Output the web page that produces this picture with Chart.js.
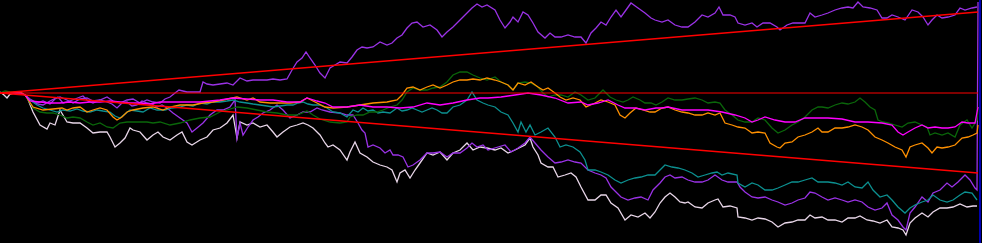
<!DOCTYPE html>
<html>
<head>
<meta charset="utf-8">
<script src="https://cdn.jsdelivr.net/npm/chart.js@4/dist/chart.umd.min.js"></script>
<style>
  html, body { margin: 0; padding: 0; background: #000; }
  #wrap { width: 982px; height: 243px; }
</style>
</head>
<body>
<div id="wrap"><canvas id="c" width="982" height="243"></canvas></div>
<script>
// Each series: [step, level] readings (level axis runs downward, 0 at top)
const upperViolet = [
  [0,93],[10,93],[20,92],[25,95],[30,99],[37,103],[43,101],[50,104],[55,99],[60,97],[67,100],[73,103],[80,99],[87,98],[93,101],
  [100,100],[107,97],[113,101],[120,103],[127,100],[133,99],[140,103],[147,100],[153,102],[160,103],[165,99],[170,97],[175,93],
  [179,90],[187,92],[193,92],[200,92],[203,82],[207,84],[213,85],[220,84],[227,83],[233,85],[240,78],[247,81],[253,80],[260,80],
  [267,80],[273,79],[280,80],[287,79],[292,70],[297,62],[302,58],[306,52],[310,58],[315,65],[320,73],[325,78],[330,68],
  [335,65],[340,62],[347,63],[352,57],[357,50],[362,47],[367,48],[373,47],[380,42],[387,45],[392,43],[397,38],[402,35],[407,28],
  [412,23],[417,22],[423,27],[430,25],[437,30],[442,37],[447,32],[453,27],[460,20],[467,13],[472,8],[477,4],[482,7],[487,5],
  [495,10],[500,20],[505,28],[510,22],[513,17],[518,22],[523,12],[528,15],[533,23],[538,32],[545,38],[550,33],[555,37],[561,37],
  [568,35],[575,37],[581,37],[586,43],[591,33],[596,28],[601,22],[606,25],[611,17],[616,10],[621,17],[626,10],[631,3],[638,8],
  [645,13],[651,18],[655,20],[662,22],[668,20],[675,25],[682,27],[688,27],[695,22],[702,15],[708,17],[715,13],[719,7],[723,15],
  [730,15],[735,17],[738,23],[745,25],[752,23],[757,27],[763,23],[770,23],[777,27],[780,30],[787,25],[793,23],[800,23],[805,23],
  [810,13],[815,17],[822,15],[828,13],[835,10],[842,8],[848,7],[853,8],[858,2],[863,7],[870,8],[877,10],[882,18],[887,18],
  [892,15],[898,17],[905,20],[912,10],[918,12],[923,17],[928,25],[932,20],[937,15],[942,18],[948,17],[955,15],[960,8],[965,10],
  [972,8],[977,7]
];

const lowerViolet = [
  [0,93],[10,93],[20,93],[25,95],[30,100],[37,104],[43,105],[50,101],[58,97],[63,103],[67,102],[75,99],[83,96],[88,101],[93,103],
  [100,100],[107,102],[112,104],[117,108],[122,103],[127,102],[132,106],[137,105],[142,101],[147,103],[152,104],[157,107],[162,105],
  [167,108],[173,113],[180,118],[187,123],[192,132],[197,128],[203,123],[210,115],[217,110],[223,110],[230,107],[235,100],[237,138],
  [240,123],[243,135],[248,127],[253,120],[258,117],[263,113],[270,110],[277,105],[283,110],[290,118],[297,115],[303,112],[310,112],
  [317,108],[322,110],[330,112],[340,113],[347,115],[353,115],[358,123],[362,130],[365,133],[368,147],[373,145],[380,148],[385,153],
  [390,150],[393,155],[398,155],[403,157],[408,167],[413,165],[420,160],[427,153],[433,153],[440,152],[447,157],[453,153],[460,153],
  [467,148],[472,143],[477,147],[483,145],[488,150],[498,147],[505,145],[511,152],[518,148],[525,143],[530,137],[535,143],[541,150],
  [548,157],[555,163],[561,162],[568,160],[575,162],[581,163],[588,170],[595,173],[601,175],[606,178],[611,187],[616,192],[621,197],
  [628,200],[635,198],[641,197],[648,200],[653,190],[660,183],[665,177],[670,175],[675,178],[682,177],[688,180],[695,182],[702,182],
  [708,180],[715,175],[722,180],[728,182],[737,182],[740,187],[745,192],[752,197],[758,198],[765,197],[772,200],[778,202],[785,205],
  [792,203],[798,200],[805,198],[810,192],[815,193],[822,197],[828,200],[835,198],[842,200],[848,202],[855,200],[862,202],[868,207],
  [875,210],[882,208],[887,203],[892,215],[898,220],[903,227],[906,230],[910,213],[915,207],[922,197],[928,202],[933,193],[940,190],
  [947,183],[952,187],[958,182],[965,175],[970,180],[975,188],[977,190],[978,2]
];

const lavender = [
  [0,92],[4,95],[7,98],[10,94],[15,93],[20,93],[25,95],[27,97],[33,112],[40,125],[47,129],[50,123],[55,125],[60,110],[67,122],
  [73,123],[80,123],[87,128],[93,133],[100,132],[107,132],[110,137],[115,147],[120,143],[125,138],[130,128],[133,130],[140,132],
  [147,140],[153,135],[158,132],[163,137],[170,140],[177,135],[182,132],[187,142],[192,145],[200,140],[207,137],[213,130],[220,128],
  [227,123],[233,115],[237,138],[240,122],[247,125],[253,123],[260,127],[267,125],[273,132],[277,137],[283,132],[290,127],[297,125],
  [303,123],[308,125],[313,128],[320,135],[325,143],[328,147],[333,145],[340,150],[347,160],[350,152],[355,142],[360,153],[367,157],
  [373,162],[380,165],[387,167],[392,170],[397,182],[400,173],[405,170],[410,178],[415,170],[420,163],[427,153],[433,155],[440,152],
  [447,160],[453,153],[460,150],[467,143],[473,150],[480,147],[487,148],[495,150],[501,148],[508,153],[515,150],[521,147],[525,145],
  [530,138],[533,147],[538,155],[541,163],[548,167],[553,167],[558,177],[565,175],[571,173],[576,177],[581,187],[588,200],[595,200],
  [601,195],[606,195],[611,203],[618,208],[625,220],[631,215],[638,217],[645,213],[650,218],[655,212],[660,203],[665,197],[670,193],
  [675,197],[680,202],[685,203],[688,202],[695,207],[702,208],[708,203],[715,200],[718,199],[723,207],[730,206],[737,208],[738,217],
  [745,218],[752,220],[758,218],[765,219],[772,222],[778,227],[785,223],[792,222],[798,220],[805,220],[810,215],[815,218],[822,217],
  [828,220],[835,220],[842,222],[848,218],[855,218],[860,216],[867,220],[873,221],[880,223],[887,220],[892,227],[898,228],[903,230],
  [906,235],[910,223],[915,218],[922,213],[928,217],[933,212],[940,208],[947,208],[953,207],[960,204],[967,207],[973,206],[977,206]
];

const teal = [
  [0,93],[10,93],[20,93],[25,95],[30,100],[37,105],[43,108],[50,110],[57,112],[63,110],[70,111],[77,109],[83,111],[90,112],[97,110],
  [103,111],[110,112],[115,116],[120,118],[125,114],[130,110],[137,111],[143,112],[150,108],[157,110],[165,110],[172,108],[180,107],
  [187,105],[193,106],[200,103],[207,104],[213,102],[220,102],[227,101],[233,100],[240,102],[247,103],[253,104],[260,105],[267,106],
  [273,107],[280,106],[287,105],[293,105],[298,103],[303,102],[308,104],[313,105],[320,105],[327,108],[333,112],[340,113],[347,117],
  [353,110],[358,112],[363,108],[368,111],[373,110],[378,113],[383,112],[390,113],[397,108],[402,111],[407,110],[412,108],[417,110],
  [422,112],[427,110],[432,108],[437,110],[442,113],[447,113],[453,107],[460,105],[467,100],[472,92],[477,100],[483,103],[488,105],
  [495,107],[501,112],[508,115],[513,123],[518,132],[521,122],[526,132],[530,125],[535,135],[541,132],[548,128],[555,137],[560,147],
  [566,145],[573,147],[580,152],[585,160],[588,170],[595,170],[601,172],[608,175],[615,180],[621,183],[628,180],[635,178],[641,177],
  [648,175],[655,175],[660,170],[665,165],[672,167],[678,168],[685,170],[692,173],[698,177],[705,175],[712,173],[717,172],[722,175],
  [728,173],[737,175],[738,183],[745,187],[752,183],[758,185],[765,190],[772,190],[778,188],[785,185],[792,182],[798,182],[805,180],
  [812,178],[818,182],[822,182],[828,182],[835,183],[842,185],[848,182],[855,187],[862,188],[868,182],[873,190],[880,197],[887,195],
  [892,200],[898,207],[905,213],[910,208],[915,205],[922,202],[928,200],[933,195],[940,200],[947,202],[953,200],[960,195],[965,192],
  [972,193],[977,200]
];

const green = [
  [0,93],[5,91],[10,92],[20,93],[25,95],[27,98],[33,108],[40,112],[47,113],[53,113],[60,115],[67,118],[73,117],[80,118],[87,122],
  [93,125],[100,123],[107,127],[113,128],[120,123],[127,122],[133,122],[140,122],[147,122],[153,123],[160,122],[170,125],[180,123],
  [190,120],[200,118],[210,117],[220,112],[227,110],[237,107],[247,108],[257,110],[267,112],[277,113],[287,115],[297,115],[307,111],
  [313,115],[320,119],[330,122],[340,123],[347,122],[350,117],[357,115],[363,115],[370,112],[377,112],[383,110],[390,107],[397,105],
  [402,100],[407,92],[413,88],[420,90],[427,90],[433,88],[440,87],[447,82],[453,75],[460,72],[467,72],[473,75],[480,78],[487,80],
  [495,77],[501,82],[508,85],[513,90],[518,83],[525,82],[531,83],[538,87],[543,93],[548,97],[555,95],[561,95],[568,97],[575,92],
  [581,95],[588,100],[595,98],[603,90],[610,97],[616,100],[623,102],[628,100],[633,97],[640,100],[645,103],[651,103],[656,105],
  [662,102],[668,98],[675,100],[682,100],[688,99],[695,98],[702,100],[708,103],[715,102],[720,103],[725,110],[732,115],[738,120],
  [745,122],[752,122],[758,118],[765,120],[772,128],[778,133],[785,130],[792,125],[798,122],[805,117],[812,110],[818,107],[822,107],
  [828,108],[835,105],[842,103],[848,104],[855,102],[860,98],[865,102],[870,107],[875,110],[878,120],[883,122],[888,123],[895,125],
  [902,127],[908,123],[915,122],[922,125],[927,127],[930,135],[935,133],[942,135],[948,133],[955,137],[960,125],[967,120],[972,128],
  [977,120],[978,107]
];

const orange = [
  [0,93],[10,93],[20,92],[25,95],[33,107],[43,110],[53,109],[62,108],[67,110],[73,108],[80,107],[87,112],[93,110],[100,108],
  [107,110],[113,117],[117,120],[122,117],[127,112],[133,110],[143,108],[153,107],[163,110],[170,107],[180,105],[193,105],[203,103],
  [213,102],[223,100],[237,97],[247,100],[253,98],[260,102],[270,103],[280,103],[290,103],[300,102],[307,98],[317,103],[325,107],
  [333,108],[347,107],[360,105],[373,103],[387,102],[397,100],[402,95],[407,88],[413,87],[420,90],[427,87],[433,85],[440,88],
  [447,85],[453,82],[460,80],[467,80],[473,79],[480,80],[487,78],[495,80],[501,82],[508,85],[513,90],[518,83],[525,85],[531,82],
  [538,87],[543,90],[548,88],[555,93],[560,97],[566,100],[573,98],[580,100],[586,107],[595,103],[601,100],[608,102],[615,105],
  [620,115],[625,118],[630,113],[636,108],[643,110],[650,112],[655,112],[662,108],[668,107],[675,110],[682,112],[688,113],[695,115],
  [702,115],[708,113],[715,115],[720,113],[725,123],[732,125],[738,127],[745,128],[752,133],[758,132],[765,133],[770,143],[777,147],
  [780,148],[785,143],[792,142],[798,137],[805,135],[812,132],[818,128],[822,132],[828,132],[835,128],[842,128],[848,127],[855,125],
  [862,127],[868,130],[875,137],[882,140],[888,143],[895,147],[902,150],[906,157],[910,147],[915,145],[922,143],[928,148],[932,153],
  [937,147],[942,148],[948,147],[955,145],[962,138],[968,137],[973,135],[977,133],[978,125]
];

const magenta = [
  [0,93],[10,93],[20,93],[25,95],[30,101],[40,102],[50,103],[60,103],[70,102],[80,103],[90,102],[100,102],[110,101],[120,102],
  [130,103],[140,103],[150,104],[160,102],[180,102],[200,102],[220,100],[233,98],[247,99],[260,100],[273,100],[287,102],[300,102],
  [307,98],[317,101],[325,103],[333,107],[347,107],[360,105],[373,107],[387,107],[400,108],[413,107],[427,103],[440,105],[453,103],
  [467,100],[480,98],[488,98],[501,97],[515,95],[528,93],[541,95],[555,98],[568,103],[581,102],[588,105],[598,103],[608,100],
  [618,105],[625,108],[635,108],[645,110],[656,108],[662,108],[668,107],[682,110],[695,110],[708,110],[722,112],[735,115],[745,118],
  [752,122],[758,120],[765,117],[775,120],[785,122],[795,122],[805,118],[815,118],[828,118],[842,119],[855,122],[868,122],[882,123],
  [892,125],[898,132],[903,135],[908,132],[915,128],[922,125],[928,128],[935,127],[942,128],[948,128],[955,127],[962,122],[968,123],
  [975,123],[978,107]
];

// reference lines
const upTrend = [[0,93],[978,12]];
const flatLine = [[0,93],[978,93]];
const downTrend = [[0,93],[978,173]];
const cursorStep = 980;
const levelTop = 0, levelBottom = 243;

const pts = arr => arr.map(p => ({ x: p[0], y: p[1] }));

function line(label, arr, color, width) {
  return {
    label: label,
    data: pts(arr),
    borderColor: color,
    backgroundColor: color,
    borderWidth: width,
    pointRadius: 0,
    tension: 0,
    fill: false
  };
}

new Chart(document.getElementById('c'), {
  type: 'line',
  data: {
    datasets: [
      line('up', upTrend, '#ff0000', 1.6),
      line('flat', flatLine, '#ff0000', 1),
      line('down', downTrend, '#ff0000', 1.6),
      line('cursor', [[cursorStep, levelTop], [cursorStep, levelBottom]], '#0000b0', 2),
      line('magenta', magenta, '#ff00ff', 1.3),
      line('orange', orange, '#ff9000', 1.3),
      line('green', green, '#0a660a', 1.3),
      line('teal', teal, '#0c9090', 1.3),
      line('upperViolet', upperViolet, '#9a32e6', 1.3),
      line('lowerViolet', lowerViolet, '#9a32e6', 1.3),
      line('lavender', lavender, '#e8d6e8', 1.3)
    ]
  },
  options: {
    responsive: false,
    devicePixelRatio: 1,
    animation: false,
    layout: { padding: 0 },
    plugins: { legend: { display: false }, tooltip: { enabled: false }, title: { display: false } },
    scales: {
      x: { type: 'linear', min: 0, max: 982, display: false },
      y: { type: 'linear', min: levelTop, max: levelBottom, reverse: true, display: false }
    }
  },
  plugins: [{
    id: 'bg',
    beforeDraw(chart) {
      const ctx = chart.ctx;
      ctx.save();
      ctx.fillStyle = '#000';
      ctx.fillRect(0, 0, chart.width, chart.height);
      ctx.restore();
    }
  }]
});
</script>
</body>
</html>
